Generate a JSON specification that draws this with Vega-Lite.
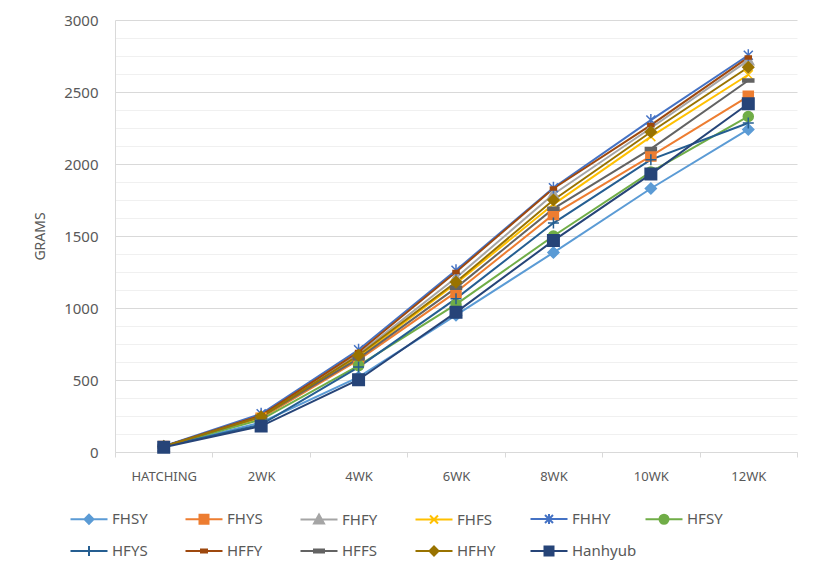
{
  "$schema": "https://vega.github.io/schema/vega-lite/v6.json",
  "width": 682,
  "height": 432,
  "autosize": {"type": "none"},
  "padding": {"left": 115, "top": 20, "right": 22, "bottom": 126},
  "background": "white",
  "config": {
    "view": {"stroke": null},
    "font": "Noto Sans"
  },
  "data": {
    "values": [
      {"series": "FHSY", "age": "HATCHING", "grams": 38},
      {"series": "FHSY", "age": "2WK", "grams": 205},
      {"series": "FHSY", "age": "4WK", "grams": 520},
      {"series": "FHSY", "age": "6WK", "grams": 950},
      {"series": "FHSY", "age": "8WK", "grams": 1385},
      {"series": "FHSY", "age": "10WK", "grams": 1830},
      {"series": "FHSY", "age": "12WK", "grams": 2240},
      {"series": "FHYS", "age": "HATCHING", "grams": 38},
      {"series": "FHYS", "age": "2WK", "grams": 235},
      {"series": "FHYS", "age": "4WK", "grams": 640},
      {"series": "FHYS", "age": "6WK", "grams": 1110},
      {"series": "FHYS", "age": "8WK", "grams": 1650},
      {"series": "FHYS", "age": "10WK", "grams": 2055},
      {"series": "FHYS", "age": "12WK", "grams": 2470},
      {"series": "FHFY", "age": "HATCHING", "grams": 38},
      {"series": "FHFY", "age": "2WK", "grams": 250},
      {"series": "FHFY", "age": "4WK", "grams": 680},
      {"series": "FHFY", "age": "6WK", "grams": 1210},
      {"series": "FHFY", "age": "8WK", "grams": 1790},
      {"series": "FHFY", "age": "10WK", "grams": 2250},
      {"series": "FHFY", "age": "12WK", "grams": 2720},
      {"series": "FHFS", "age": "HATCHING", "grams": 38},
      {"series": "FHFS", "age": "2WK", "grams": 240},
      {"series": "FHFS", "age": "4WK", "grams": 660},
      {"series": "FHFS", "age": "6WK", "grams": 1170},
      {"series": "FHFS", "age": "8WK", "grams": 1720},
      {"series": "FHFS", "age": "10WK", "grams": 2190},
      {"series": "FHFS", "age": "12WK", "grams": 2620},
      {"series": "FHHY", "age": "HATCHING", "grams": 40},
      {"series": "FHHY", "age": "2WK", "grams": 265},
      {"series": "FHHY", "age": "4WK", "grams": 710},
      {"series": "FHHY", "age": "6WK", "grams": 1262},
      {"series": "FHHY", "age": "8WK", "grams": 1835},
      {"series": "FHHY", "age": "10WK", "grams": 2305},
      {"series": "FHHY", "age": "12WK", "grams": 2755},
      {"series": "HFSY", "age": "HATCHING", "grams": 38},
      {"series": "HFSY", "age": "2WK", "grams": 225},
      {"series": "HFSY", "age": "4WK", "grams": 600},
      {"series": "HFSY", "age": "6WK", "grams": 1025},
      {"series": "HFSY", "age": "8WK", "grams": 1500},
      {"series": "HFSY", "age": "10WK", "grams": 1945},
      {"series": "HFSY", "age": "12WK", "grams": 2330},
      {"series": "HFYS", "age": "HATCHING", "grams": 38},
      {"series": "HFYS", "age": "2WK", "grams": 190},
      {"series": "HFYS", "age": "4WK", "grams": 590},
      {"series": "HFYS", "age": "6WK", "grams": 1065},
      {"series": "HFYS", "age": "8WK", "grams": 1590},
      {"series": "HFYS", "age": "10WK", "grams": 2030},
      {"series": "HFYS", "age": "12WK", "grams": 2285},
      {"series": "HFFY", "age": "HATCHING", "grams": 38},
      {"series": "HFFY", "age": "2WK", "grams": 255},
      {"series": "HFFY", "age": "4WK", "grams": 695},
      {"series": "HFFY", "age": "6WK", "grams": 1250},
      {"series": "HFFY", "age": "8WK", "grams": 1830},
      {"series": "HFFY", "age": "10WK", "grams": 2270},
      {"series": "HFFY", "age": "12WK", "grams": 2740},
      {"series": "HFFS", "age": "HATCHING", "grams": 38},
      {"series": "HFFS", "age": "2WK", "grams": 245},
      {"series": "HFFS", "age": "4WK", "grams": 650},
      {"series": "HFFS", "age": "6WK", "grams": 1140},
      {"series": "HFFS", "age": "8WK", "grams": 1690},
      {"series": "HFFS", "age": "10WK", "grams": 2105},
      {"series": "HFFS", "age": "12WK", "grams": 2580},
      {"series": "HFHY", "age": "HATCHING", "grams": 38},
      {"series": "HFHY", "age": "2WK", "grams": 245},
      {"series": "HFHY", "age": "4WK", "grams": 672},
      {"series": "HFHY", "age": "6WK", "grams": 1180},
      {"series": "HFHY", "age": "8WK", "grams": 1750},
      {"series": "HFHY", "age": "10WK", "grams": 2222},
      {"series": "HFHY", "age": "12WK", "grams": 2672},
      {"series": "Hanhyub", "age": "HATCHING", "grams": 33},
      {"series": "Hanhyub", "age": "2WK", "grams": 180},
      {"series": "Hanhyub", "age": "4WK", "grams": 502},
      {"series": "Hanhyub", "age": "6WK", "grams": 970},
      {"series": "Hanhyub", "age": "8WK", "grams": 1468},
      {"series": "Hanhyub", "age": "10WK", "grams": 1930},
      {"series": "Hanhyub", "age": "12WK", "grams": 2418}
    ]
  },
  "encoding": {
    "x": {
      "field": "age",
      "type": "nominal",
      "sort": ["HATCHING", "2WK", "4WK", "6WK", "8WK", "10WK", "12WK"],
      "scale": {"type": "band", "paddingInner": 0, "paddingOuter": 0},
      "axis": {
        "title": null,
        "labelAngle": 0,
        "labelFont": "Noto Sans",
        "labelFontSize": 13,
        "labelColor": "#595959",
        "labelPadding": 13,
        "tickBand": "extent",
        "tickSize": 5,
        "tickColor": "#d9d9d9",
        "domainColor": "#d9d9d9",
        "grid": false
      }
    },
    "y": {
      "field": "grams",
      "type": "quantitative",
      "scale": {"domain": [0, 3000], "nice": false},
      "axis": {
        "title": "GRAMS",
        "titleFont": "Noto Sans",
        "titleFontSize": 14,
        "titleFontWeight": "normal",
        "titleColor": "#595959",
        "titlePadding": 16,
        "values": [0, 125, 250, 375, 500, 625, 750, 875, 1000, 1125, 1250, 1375, 1500, 1625, 1750, 1875, 2000, 2125, 2250, 2375, 2500, 2625, 2750, 2875, 3000],
        "labelExpr": "datum.value % 500 === 0 ? datum.label : ''",
        "format": "d",
        "labelFont": "Noto Sans",
        "labelFontSize": 15,
        "labelColor": "#595959",
        "labelPadding": 17,
        "ticks": false,
        "tickSize": 0,
        "domainColor": "#d9d9d9",
        "grid": true,
        "gridColor": {"condition": {"test": "datum.value % 500 === 0", "value": "#d9d9d9"}, "value": "#f0f0f0"},
        "gridWidth": 1
      }
    }
  },
  "layer": [
    {
      "mark": {"type": "line", "strokeWidth": 2},
      "encoding": {
        "color": {
          "field": "series",
          "type": "nominal",
          "scale": {
            "domain": ["FHSY", "FHYS", "FHFY", "FHFS", "FHHY", "HFSY", "HFYS", "HFFY", "HFFS", "HFHY", "Hanhyub"],
            "range": ["#5B9BD5", "#ED7D31", "#A5A5A5", "#FFC000", "#4472C4", "#70AD47", "#255E91", "#9E480E", "#636363", "#997300", "#264478"]
          },
          "legend": {
            "title": null,
            "orient": "none",
            "legendX": -37,
            "legendY": 488,
            "direction": "horizontal",
            "columns": 6,
            "gridAlign": "all",
            "columnPadding": 4,
            "rowPadding": 12,
            "padding": 0,
            "symbolSize": 400,
            "symbolStrokeWidth": 2,
            "labelOffset": 12,
            "labelFont": "Noto Sans",
            "labelFontSize": 15,
            "labelColor": "#595959",
            "encode": {
              "symbols": {
                "update": {
                  "shape": {"signal": "['M-1.85,0L1.85,0M0,-0.45L0.45,0L0,0.45L-0.45,0Z','M-1.85,0L1.85,0M-0.45,-0.45L0.45,-0.45L0.45,0.45L-0.45,0.45Z','M-1.85,0L1.85,0M0,-0.5L0.5,0.4L-0.5,0.4Z','M-1.85,0L1.85,0M-0.4,-0.4L0.4,0.4M-0.4,0.4L0.4,-0.4','M-1.85,0L1.85,0M-0.4,-0.4L0.4,0.4M-0.4,0.4L0.4,-0.4M0,-0.5L0,0.5','M-1.85,0L1.85,0M0.45,0A0.45,0.45,0,1,1,-0.45,0A0.45,0.45,0,1,1,0.45,0Z','M-1.85,0L1.85,0M0,-0.5L0,0.5','M-1.85,0L1.85,0M-0.3,-0.15L0.3,-0.15L0.3,0.15L-0.3,0.15Z','M-1.85,0L1.85,0M-0.5,-0.15L0.5,-0.15L0.5,0.15L-0.5,0.15Z','M-1.85,0L1.85,0M0,-0.45L0.45,0L0,0.45L-0.45,0Z','M-1.85,0L1.85,0M-0.45,-0.45L0.45,-0.45L0.45,0.45L-0.45,0.45Z'][indexof(['FHSY','FHYS','FHFY','FHFS','FHHY','HFSY','HFYS','HFFY','HFFS','HFHY','Hanhyub'], datum.value)]"},
                  "fill": {"scale": "color", "field": "value"},
                  "stroke": {"scale": "color", "field": "value"},
                  "strokeWidth": {"value": 2},
                  "opacity": {"value": 1}
                }
              }
            }
          }
        }
      }
    },
    {"transform": [{"filter": "datum.series === 'FHSY'"}], "mark": {"type": "point", "filled": true, "opacity": 1, "size": 100, "strokeWidth": 1.5, "fill": "#5B9BD5", "stroke": "#5B9BD5", "shape": "M0,-1.1L1.1,0L0,1.1L-1.1,0Z"}},
    {"transform": [{"filter": "datum.series === 'FHYS'"}], "mark": {"type": "point", "filled": true, "opacity": 1, "size": 100, "strokeWidth": 1.5, "fill": "#ED7D31", "stroke": "#ED7D31", "shape": "M-1,-1L1,-1L1,1L-1,1Z"}},
    {"transform": [{"filter": "datum.series === 'FHFY'"}], "mark": {"type": "point", "filled": true, "opacity": 1, "size": 100, "strokeWidth": 1.5, "fill": "#A5A5A5", "stroke": "#A5A5A5", "shape": "M0,-1.1L1.1,0.9L-1.1,0.9Z"}},
    {"transform": [{"filter": "datum.series === 'FHFS'"}], "mark": {"type": "point", "filled": true, "opacity": 1, "size": 100, "strokeWidth": 1.5, "fill": "#FFC000", "stroke": "#FFC000", "shape": "M-0.9,-0.9L0.9,0.9M-0.9,0.9L0.9,-0.9"}},
    {"transform": [{"filter": "datum.series === 'FHHY'"}], "mark": {"type": "point", "filled": true, "opacity": 1, "size": 100, "strokeWidth": 1.5, "fill": "#4472C4", "stroke": "#4472C4", "shape": "M-0.9,-0.9L0.9,0.9M-0.9,0.9L0.9,-0.9M0,-1.2L0,1.2"}},
    {"transform": [{"filter": "datum.series === 'HFSY'"}], "mark": {"type": "point", "filled": true, "opacity": 1, "size": 100, "strokeWidth": 1.5, "fill": "#70AD47", "stroke": "#70AD47", "shape": "circle"}},
    {"transform": [{"filter": "datum.series === 'HFYS'"}], "mark": {"type": "point", "filled": true, "opacity": 1, "size": 100, "strokeWidth": 1.5, "fill": "#255E91", "stroke": "#255E91", "shape": "M-1.1,0L1.1,0M0,-1.1L0,1.1"}},
    {"transform": [{"filter": "datum.series === 'HFFY'"}], "mark": {"type": "point", "filled": true, "opacity": 1, "size": 100, "strokeWidth": 1.5, "fill": "#9E480E", "stroke": "#9E480E", "shape": "M-0.6,-0.3L0.6,-0.3L0.6,0.3L-0.6,0.3Z"}},
    {"transform": [{"filter": "datum.series === 'HFFS'"}], "mark": {"type": "point", "filled": true, "opacity": 1, "size": 100, "strokeWidth": 1.5, "fill": "#636363", "stroke": "#636363", "shape": "M-1.1,-0.3L1.1,-0.3L1.1,0.3L-1.1,0.3Z"}},
    {"transform": [{"filter": "datum.series === 'HFHY'"}], "mark": {"type": "point", "filled": true, "opacity": 1, "size": 100, "strokeWidth": 1.5, "fill": "#997300", "stroke": "#997300", "shape": "M0,-1.1L1.1,0L0,1.1L-1.1,0Z"}},
    {"transform": [{"filter": "datum.series === 'Hanhyub'"}], "mark": {"type": "point", "filled": true, "opacity": 1, "size": 100, "strokeWidth": 1.5, "fill": "#264478", "stroke": "#264478", "shape": "M-1.15,-1.15L1.15,-1.15L1.15,1.15L-1.15,1.15Z"}}
  ]
}
